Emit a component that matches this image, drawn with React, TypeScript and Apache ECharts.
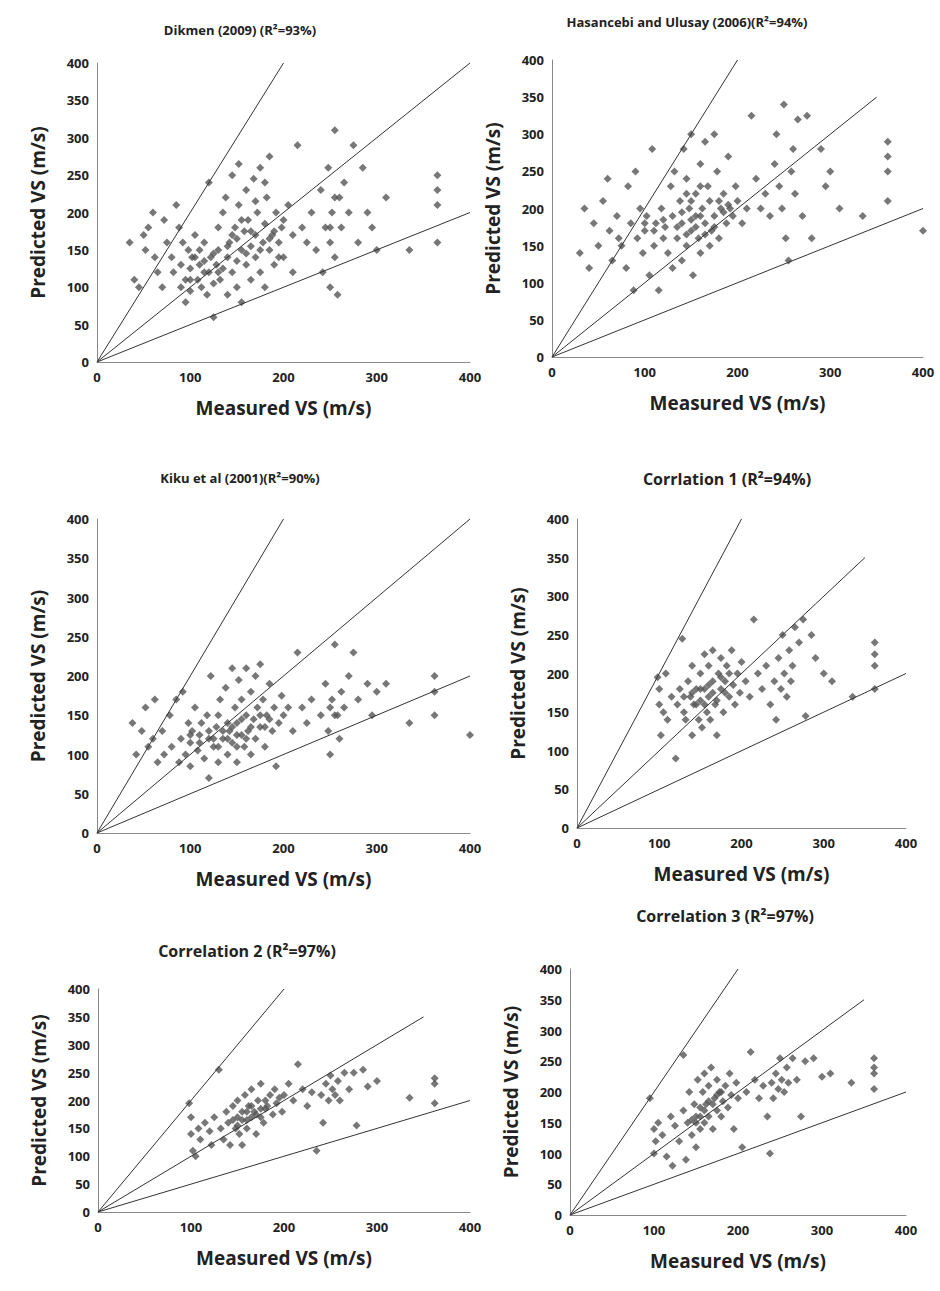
import { useEffect, useRef } from 'react';
import * as echarts from 'echarts';

const titles = [
  'Dikmen (2009) (R²=93%)',
  'Hasancebi and Ulusay (2006)(R²=94%)',
  'Kiku et al (2001)(R²=90%)',
  'Corrlation 1 (R²=94%)',
  'Correlation 2 (R²=97%)',
  'Correlation 3 (R²=97%)',
];
const xTicks = [0, 100, 200, 300, 400];
const yTicks = [0, 50, 100, 150, 200, 250, 300, 350, 400];
// reference lines: y = 2x, y = x, y = x/2 (end of y=x differs per panel)
const lineTwo = [[0, 0], [200, 400]];
const lineHalf = [[0, 0], [400, 200]];
const lineOneEnd = [400, 350, 400, 350, 350, 350];

const dikmen = [
  [35,160],[40,110],[45,100],[50,170],[52,150],[55,180],[60,200],[62,140],[65,120],[70,100],[72,190],[75,160],[80,140],[82,120],[85,210],[88,180],[90,100],[90,130],[92,160],[95,80],[95,110],[98,150],[100,125],[100,95],[102,140],[105,170],[108,110],[110,130],[110,150],[112,100],[115,160],[118,90],[120,120],[120,240],[122,140],[125,60],[125,105],[128,130],[130,150],[130,180],[132,110],[135,200],[135,125],[138,220],[140,90],[140,140],[142,160],[145,250],[145,120],[148,180],[150,100],[150,135],[152,265],[152,210],[155,150],[155,80],[158,175],[160,130],[160,230],[162,190],[165,110],[165,155],[168,245],[170,170],[170,140],[172,200],[175,260],[175,120],[178,160],[180,185],[180,100],[182,220],[185,275],[185,150],[188,170],[190,130],[192,200],[195,160],[198,180],[200,140],[200,190],[205,210],[210,170],[210,120],[215,290],[220,180],[225,160],[230,200],[235,150],[240,230],[242,120],[245,180],[248,260],[250,100],[250,160],[252,200],[255,310],[255,140],[258,90],[260,220],[262,180],[265,240],[270,200],[275,290],[280,160],[285,260],[290,200],[295,180],[300,150],[310,220],[335,150],[365,250],[365,230],[365,210],[365,160],
  [100,110],[105,140],[115,120],[125,145],[140,155],[145,170],[150,165],[160,145],[165,175],[175,150],[185,165],[190,175],[195,140],[115,135],[130,120],[155,190],[170,215],[180,240],[250,180],[255,220],
];
const hasancebi = [
  [30,140],[35,200],[40,120],[45,180],[50,150],[55,210],[60,240],[62,170],[65,130],[70,190],[72,160],[75,150],[80,120],[82,230],[85,180],[88,90],[90,250],[92,160],[95,200],[98,140],[100,170],[102,190],[105,110],[108,280],[110,150],[112,180],[115,90],[118,200],[120,160],[122,175],[125,140],[128,230],[130,120],[130,190],[132,250],[135,160],[138,210],[140,130],[140,180],[142,280],[145,150],[145,240],[148,200],[150,170],[150,300],[152,110],[155,190],[155,220],[158,160],[160,260],[160,140],[162,200],[165,180],[165,290],[168,230],[170,150],[170,210],[172,170],[175,300],[175,190],[178,250],[180,160],[182,200],[185,220],[188,180],[190,270],[192,200],[195,190],[198,230],[200,210],[205,180],[210,200],[215,325],[220,240],[225,200],[230,220],[235,190],[240,260],[242,300],[245,230],[248,200],[250,340],[252,160],[255,130],[258,250],[260,280],[262,220],[265,320],[270,190],[275,325],[280,160],[290,280],[295,230],[300,250],[310,200],[335,190],[362,290],[362,270],[362,250],[362,210],[400,170],
  [100,180],[110,170],[120,185],[135,175],[140,195],[145,165],[150,185],[155,175],[160,190],[165,165],[175,175],[180,210],[185,195],[190,205],[150,210],[145,220],[160,230],
];
const kiku = [
  [38,140],[42,100],[48,130],[52,160],[55,110],[60,120],[62,170],[65,90],[70,130],[72,100],[78,150],[80,110],[85,170],[88,90],[90,120],[92,180],[95,100],[98,140],[100,115],[100,85],[102,130],[105,160],[108,105],[110,125],[112,140],[115,95],[118,150],[120,70],[120,120],[122,200],[125,110],[128,135],[130,150],[130,90],[132,170],[135,120],[138,185],[140,100],[140,140],[142,130],[145,210],[145,115],[148,160],[150,90],[150,140],[152,195],[155,125],[155,170],[158,110],[160,150],[160,210],[162,130],[165,180],[165,100],[168,145],[170,200],[170,120],[172,160],[175,215],[175,135],[178,170],[180,110],[182,150],[185,190],[188,130],[190,160],[192,85],[195,140],[198,175],[200,150],[205,160],[210,130],[215,230],[220,160],[225,140],[230,170],[240,150],[245,190],[248,130],[250,100],[252,170],[255,240],[258,150],[260,120],[262,180],[265,160],[270,200],[275,230],[280,170],[290,190],[295,150],[300,180],[310,190],[335,140],[362,200],[362,180],[362,150],[400,125],
  [100,125],[110,115],[120,130],[135,130],[140,120],[145,135],[150,125],[155,145],[160,120],[165,135],[175,150],[180,135],[185,145],[125,120],[130,110],[150,110],[255,150],[250,160],
];
const corr1 = [
  [98,195],[100,180],[100,160],[102,120],[105,150],[108,200],[110,140],[115,170],[120,90],[122,160],[125,180],[128,245],[130,150],[132,140],[135,190],[138,170],[140,120],[140,210],[142,160],[145,180],[148,140],[150,200],[150,165],[152,130],[155,225],[155,180],[158,150],[160,210],[160,170],[162,140],[165,230],[165,190],[168,160],[170,120],[172,200],[175,180],[175,220],[178,150],[180,190],[182,210],[185,170],[188,230],[190,185],[192,160],[195,200],[198,175],[200,215],[205,190],[210,170],[215,270],[220,200],[225,180],[230,210],[235,160],[240,190],[242,140],[245,220],[248,180],[250,250],[252,200],[255,170],[258,230],[260,190],[262,210],[265,260],[270,240],[275,270],[278,145],[285,250],[290,220],[300,200],[310,190],[335,170],[362,240],[362,225],[362,210],[362,180],
  [130,170],[140,175],[145,160],[150,180],[155,160],[160,185],[165,175],[170,165],[175,195],[180,175],[185,200],
];
const corr2 = [
  [98,195],[100,170],[100,140],[102,110],[105,100],[108,150],[110,130],[115,160],[120,145],[122,120],[125,170],[130,255],[132,150],[135,130],[138,180],[140,160],[142,120],[145,190],[148,150],[150,170],[150,200],[152,140],[155,180],[155,120],[158,210],[160,165],[160,150],[162,190],[165,220],[165,170],[168,180],[170,140],[172,200],[175,185],[175,230],[178,160],[180,200],[182,190],[185,210],[188,175],[190,220],[192,195],[195,205],[198,180],[200,210],[205,230],[210,200],[215,265],[220,220],[225,190],[230,215],[235,110],[240,210],[242,160],[245,230],[248,200],[250,245],[252,220],[255,210],[258,235],[260,200],[265,250],[270,220],[275,250],[278,155],[285,255],[290,225],[300,235],[335,205],[362,240],[362,230],[362,195],
  [145,165],[150,155],[155,165],[160,180],[165,190],[170,175],[175,170],[180,185],
];
const corr3 = [
  [95,190],[100,140],[100,100],[102,120],[105,150],[110,130],[115,95],[120,160],[122,80],[125,145],[130,120],[135,260],[135,170],[138,90],[140,150],[142,200],[145,130],[148,180],[150,160],[150,110],[152,220],[155,140],[155,175],[158,200],[160,150],[160,230],[162,180],[165,160],[165,210],[168,240],[170,140],[172,190],[175,170],[175,220],[178,200],[180,160],[182,185],[185,210],[188,175],[190,230],[192,195],[195,140],[198,215],[200,190],[205,110],[210,200],[215,265],[220,220],[225,190],[230,210],[235,160],[238,100],[240,215],[242,190],[245,230],[248,205],[250,255],[252,220],[255,200],[258,240],[260,215],[265,255],[270,220],[275,160],[280,250],[290,255],[300,225],[310,230],[335,215],[362,255],[362,240],[362,230],[362,205],
  [145,155],[150,150],[155,160],[160,170],[165,185],[170,180],[175,195],[180,200],
];
const panels = [dikmen, hasancebi, kiku, corr1, corr2, corr3];

// grid rectangles in pixels: left, top, width, height
const gridRects = [
  [97, 63, 373, 299],
  [552, 60, 371, 297],
  [97, 519, 373, 314],
  [577, 519, 329, 309],
  [98, 989, 372, 223],
  [570, 969, 336, 246],
];
const titlePos = [[235, 18], [682, 10], [235, 466], [722, 466], [242, 938], [720, 903]];

const font = '"Open Sans", "DejaVu Sans", sans-serif';

export default function App() {
  const ref = useRef<HTMLDivElement>(null);

  useEffect(() => {
    document.body.style.margin = '0';
    if (!ref.current) return;
    const chart = echarts.init(ref.current, null, { renderer: 'svg' });
    const grid = gridRects.map(([left, top, width, height]) => ({ left, top, width, height }));
    const xAxis = gridRects.map((_, i) => ({
      type: 'value' as const,
      gridIndex: i,
      min: xTicks[0],
      max: xTicks[xTicks.length - 1],
      interval: 100,
      name: 'Measured VS (m/s)',
      nameLocation: 'middle' as const,
      nameGap: 36,
      nameTextStyle: { fontFamily: font, fontWeight: 'bold' as const, fontSize: 19, color: '#222' },
      axisLine: { lineStyle: { color: '#888' } },
      axisTick: { show: false },
      splitLine: { show: false },
      axisLabel: { fontFamily: font, fontWeight: 'bold' as const, fontSize: 13, color: '#222' },
    }));
    const yAxis = gridRects.map((_, i) => ({
      type: 'value' as const,
      gridIndex: i,
      min: yTicks[0],
      max: yTicks[yTicks.length - 1],
      interval: 50,
      name: 'Predicted VS (m/s)',
      nameLocation: 'middle' as const,
      nameGap: 50,
      nameTextStyle: { fontFamily: font, fontWeight: 'bold' as const, fontSize: 19, color: '#222' },
      axisLine: { show: true, lineStyle: { color: '#888' } },
      axisTick: { show: false },
      splitLine: { show: false },
      axisLabel: { fontFamily: font, fontWeight: 'bold' as const, fontSize: 13, color: '#222' },
    }));
    const series: echarts.SeriesOption[] = [];
    panels.forEach((pts, i) => {
      series.push({
        type: 'scatter',
        xAxisIndex: i,
        yAxisIndex: i,
        data: pts,
        symbol: 'diamond',
        symbolSize: 8,
        itemStyle: { color: '#555' },
      });
      const lines = [lineTwo, [[0, 0], [lineOneEnd[i], lineOneEnd[i]]], lineHalf];
      lines.forEach((l) =>
        series.push({
          type: 'line',
          xAxisIndex: i,
          yAxisIndex: i,
          data: l,
          symbol: 'none',
          silent: true,
          lineStyle: { color: '#333', width: 1 },
        })
      );
    });
    chart.setOption({
      animation: false,
      title: titles.map((t, i) => ({
        text: t,
        left: titlePos[i][0],
        top: titlePos[i][1],
        textAlign: 'center',
        textStyle: {
          fontFamily: font,
          fontWeight: 'bold',
          fontSize: i >= 3 ? 16 : 13,
          color: '#222',
        },
      })),
      grid,
      xAxis,
      yAxis,
      series,
    });
    return () => chart.dispose();
  }, []);

  return <div ref={ref} style={{ width: 940, height: 1291, background: '#fff' }} />;
}
